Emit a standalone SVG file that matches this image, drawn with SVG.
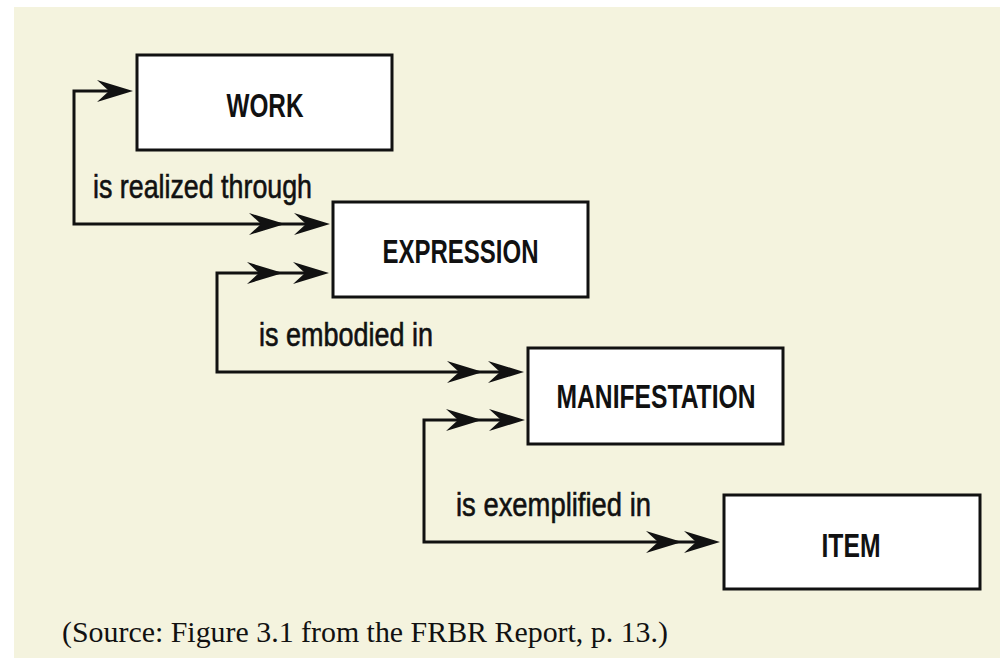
<svg xmlns="http://www.w3.org/2000/svg" xmlns:xlink="http://www.w3.org/1999/xlink" width="1000" height="658" viewBox="0 0 1000 658">
  <style>
    .bg { fill: #F4F3DE; }
    .box { fill: #FFFFFF; stroke: #111111; stroke-width: 3; }
    .lbl { font-family: "Liberation Sans", Arial, sans-serif; font-size: 33px; font-weight: bold; fill: #111111; text-anchor: middle; }
    .rel { font-family: "Liberation Sans", Arial, sans-serif; font-size: 33px; fill: #111111; stroke: #111111; stroke-width: 0.6px; }
    .cap { font-family: "Liberation Serif", "Times New Roman", serif; font-size: 29px; fill: #111111; }
    .line { fill: none; stroke: #111111; stroke-width: 3; stroke-linejoin: miter; }
    .head { fill: #111111; }
  </style>
  <defs>
    <path id="ah" class="head" d="M0,0 L-36,-11 L-24,0 L-36,11 Z"/>
  </defs>

  <rect class="bg" x="14" y="7" width="986" height="651"/>

  <g id="connectors">
    <g id="c-work-expression">
      <polyline class="line" points="112,91 74,91 74,224 320,224"/>
      <use xlink:href="#ah" x="133" y="91"/>
      <use xlink:href="#ah" x="285" y="224"/>
      <use xlink:href="#ah" x="330" y="224"/>
    </g>
    <g id="c-expression-manifestation">
      <polyline class="line" points="320,273 217,273 217,372 515,372"/>
      <use xlink:href="#ah" x="283" y="273"/>
      <use xlink:href="#ah" x="329" y="273"/>
      <use xlink:href="#ah" x="483" y="372"/>
      <use xlink:href="#ah" x="524" y="372"/>
    </g>
    <g id="c-manifestation-item">
      <polyline class="line" points="515,420 424,420 424,542 712,542"/>
      <use xlink:href="#ah" x="482" y="420"/>
      <use xlink:href="#ah" x="525" y="420"/>
      <use xlink:href="#ah" x="682" y="542"/>
      <use xlink:href="#ah" x="720" y="542"/>
    </g>
    <text class="rel" x="93" y="198" textLength="219" lengthAdjust="spacingAndGlyphs">is realized through</text>
    <text class="rel" x="259" y="346" textLength="174" lengthAdjust="spacingAndGlyphs">is embodied in</text>
    <text class="rel" x="456" y="516" textLength="195" lengthAdjust="spacingAndGlyphs">is exemplified in</text>
  </g>

  <g id="work">
    <rect class="box" x="137" y="55" width="255" height="95"/>
    <text class="lbl" x="265" y="117" textLength="77" lengthAdjust="spacingAndGlyphs">WORK</text>
  </g>
  <g id="expression">
    <rect class="box" x="333" y="202" width="255" height="95"/>
    <text class="lbl" x="460.5" y="263" textLength="156" lengthAdjust="spacingAndGlyphs">EXPRESSION</text>
  </g>
  <g id="manifestation">
    <rect class="box" x="528" y="348" width="255" height="96"/>
    <text class="lbl" x="656" y="408" textLength="199" lengthAdjust="spacingAndGlyphs">MANIFESTATION</text>
  </g>
  <g id="item">
    <rect class="box" x="724" y="495" width="256" height="94"/>
    <text class="lbl" x="851" y="557" textLength="59" lengthAdjust="spacingAndGlyphs">ITEM</text>
  </g>

  <text class="cap" x="62" y="642" textLength="606" lengthAdjust="spacingAndGlyphs">(Source: Figure 3.1 from the FRBR Report, p. 13.)</text>
</svg>
